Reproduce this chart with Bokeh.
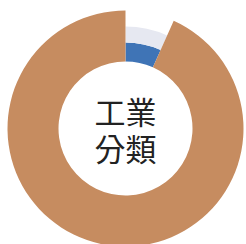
import math
from bokeh.plotting import figure
from bokeh.models import Range1d
from bokeh.core.properties import value
from bokeh.embed import file_html
from bokeh.resources import INLINE

# data
slice_names = ["其他", "工業"]
slice_values = [6.7, 93.3]
slice_colors = ["#3f74b6", "#c68c60"]
outer_band_color = "#e6e8f1"
center_lines = ["工業", "分類"]

W, H = 246, 244
p = figure(width=W, height=H, output_backend="svg", toolbar_location=None,
           x_range=Range1d(0, W), y_range=Range1d(0, H),
           min_border=0, outline_line_color=None, background_fill_color="white",
           border_fill_color="white")
p.axis.visible = False
p.grid.visible = False

cx, cy = 125, 116
r_in, r_out = 67, 118
r_small_mid, r_small_out = 86, 102

total = sum(slice_values)
starts, ends = [], []
acc = 0.0
for v in slice_values:
    a0 = math.pi / 2 - 2 * math.pi * acc / total
    acc += v
    a1 = math.pi / 2 - 2 * math.pi * acc / total
    starts.append(a0)
    ends.append(a1)

# small slice: blue inner band + light outer band
p.annular_wedge(x=cx, y=cy, inner_radius=r_in, outer_radius=r_small_mid,
                start_angle=starts[0], end_angle=ends[0], direction="clock",
                fill_color=slice_colors[0], line_color=None)
p.annular_wedge(x=cx, y=cy, inner_radius=r_small_mid, outer_radius=r_small_out,
                start_angle=starts[0], end_angle=ends[0], direction="clock",
                fill_color=outer_band_color, line_color=None)
# main slice
p.annular_wedge(x=cx, y=cy, inner_radius=r_in, outer_radius=r_out,
                start_angle=starts[1], end_angle=ends[1], direction="clock",
                fill_color=slice_colors[1], line_color=None)

line_h = 37
n = len(center_lines)
ys = [cy + (n - 1) * line_h / 2 - i * line_h for i in range(n)]
p.text(x=[cx] * n, y=ys, text=center_lines, text_align="center",
       text_baseline="middle", text_font=value("Noto Sans CJK TC"),
       text_font_size="31px", text_color="#222222")

open("out.html", "w").write(file_html(p, INLINE))
